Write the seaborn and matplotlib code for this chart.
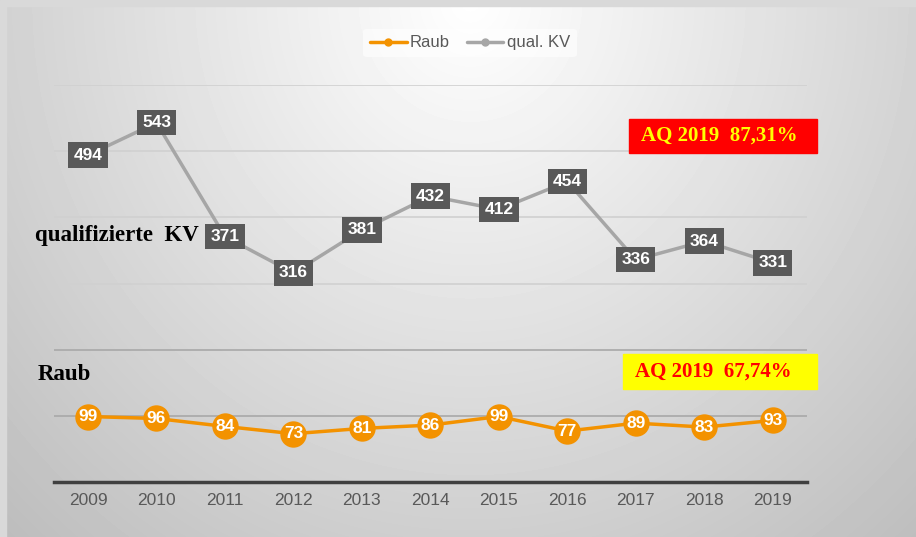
import numpy as np
import pandas as pd
import matplotlib
matplotlib.use("Agg")
import matplotlib.pyplot as plt
from matplotlib.patches import Rectangle
from matplotlib.lines import Line2D
import seaborn as sns

years = [2009, 2010, 2011, 2012, 2013, 2014, 2015, 2016, 2017, 2018, 2019]
raub = [99, 96, 84, 73, 81, 86, 99, 77, 89, 83, 93]
qual_kv = [494, 543, 371, 316, 381, 432, 412, 454, 336, 364, 331]

ORANGE = "#F39200"
GRAY_LINE = "#A6A6A6"
LABEL_BOX = "#595959"

sns.set_style("white")
plt.rcParams["font.family"] = ["Liberation Sans", "DejaVu Sans"]

df = pd.DataFrame({"Jahr": years, "Raub": raub, "qual. KV": qual_kv})

fig = plt.figure(figsize=(9.16, 5.37), dpi=100)

# background gradient
bg = fig.add_axes([0, 0, 1, 1], zorder=-2)
xx, yy = np.meshgrid(np.arange(916), np.arange(537))
r = np.sqrt(((xx - 470) / 600.0) ** 2 + (yy / 650.0) ** 2)
shade = np.clip(1 - 0.23 * r, 0, 1)
bg.imshow(shade, cmap="gray", vmin=0, vmax=1, extent=[0, 916, 537, 0], aspect="auto")
bg.add_patch(Rectangle((0, 0), 916, 6, color="#d9d9d9"))
bg.add_patch(Rectangle((0, 0), 6, 537, color="#d9d9d9"))
bg.set_xlim(0, 916)
bg.set_ylim(537, 0)
bg.axis("off")

ax = fig.add_axes([0.0587, 0.1024, 0.8223, 0.7393])
ax.set_facecolor("none")

for y in [100, 200, 300, 400, 500, 600]:
    c = "#a8a8a8" if y in (100, 200) else "#d0d0d0"
    ax.axhline(y, color=c, lw=1.2, zorder=0)

sns.lineplot(data=df, x="Jahr", y="qual. KV", ax=ax, color=GRAY_LINE, lw=2.5,
             marker="o", markersize=6, markeredgewidth=0, zorder=2)
sns.lineplot(data=df, x="Jahr", y="Raub", ax=ax, color=ORANGE, lw=2.5,
             marker="o", markersize=19, markeredgewidth=0, zorder=3)

for x, v in zip(years, qual_kv):
    ax.text(x, v, str(v), ha="center", va="center", color="white",
            fontsize=12.5, fontweight="bold", zorder=4,
            bbox=dict(boxstyle="square,pad=0.3", fc=LABEL_BOX, ec="none"))
for x, v in zip(years, raub):
    ax.text(x, v, str(v), ha="center", va="center", color="white",
            fontsize=12.5, fontweight="bold", zorder=4)

ax.set_xlim(2008.5, 2019.5)
ax.set_ylim(0, 600)
ax.set_xticks(years)
ax.set_xticklabels([str(y) for y in years], color="#595959", fontsize=12.5)
ax.set_yticks([])
ax.set_xlabel("")
ax.set_ylabel("")
ax.tick_params(axis="x", length=0, pad=8)
for s in ["top", "right", "left"]:
    ax.spines[s].set_visible(False)
ax.spines["bottom"].set_color("#404040")
ax.spines["bottom"].set_linewidth(2.5)

handles = [Line2D([0], [0], color=ORANGE, lw=2.5, marker="o", markersize=5),
           Line2D([0], [0], color=GRAY_LINE, lw=2.5, marker="o", markersize=5)]
leg = fig.legend(handles, ["Raub", "qual. KV"], loc="center", bbox_to_anchor=(0.513, 0.92),
                 ncol=2, frameon=True, fontsize=12, handlelength=2.2, handletextpad=0.2,
                 columnspacing=1.0, borderpad=0.4)
leg.get_frame().set_facecolor("white")
leg.get_frame().set_alpha(0.6)
leg.get_frame().set_edgecolor("none")
for t in leg.get_texts():
    t.set_color("#595959")

# overlay for text boxes, above the grid
top = fig.add_axes([0, 0, 1, 1], zorder=5)
top.set_xlim(0, 916)
top.set_ylim(537, 0)
top.axis("off")

serif = ["Liberation Serif", "DejaVu Serif"]
top.text(35, 236, "qualifizierte  KV", family=serif, fontsize=16.5,
         fontweight="bold", ha="left", va="center", color="black")
top.text(38, 374, "Raub", family=serif, fontsize=16.5,
         fontweight="bold", ha="left", va="center", color="black")

top.add_patch(Rectangle((629, 119), 188, 34, color="#FF0000"))
top.text(641, 136, "AQ 2019  87,31%", family=serif, fontsize=15, fontweight="bold",
         color="#FFFF00", ha="left", va="center")
top.add_patch(Rectangle((623, 354), 194, 35, color="#FFFF00"))
top.text(635, 372, "AQ 2019  67,74%", family=serif, fontsize=15, fontweight="bold",
         color="#FF0000", ha="left", va="center")

fig.savefig("out.png", dpi=100)
